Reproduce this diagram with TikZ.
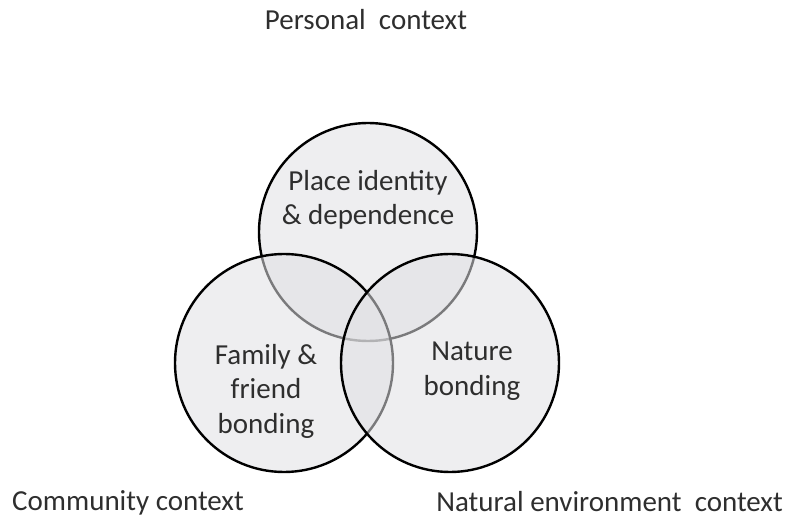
\documentclass[tikz,border=0pt]{standalone}
\usepackage{fontspec}
\setmainfont{Carlito}
\definecolor{txt}{HTML}{2E2E2E}
\definecolor{vfill}{HTML}{E0E0E3}
\begin{document}
\begin{tikzpicture}[x=1pt,y=-1pt,
  venn/.style={circle,draw=black,line width=2.4pt,fill=vfill,fill opacity=0.55,draw opacity=1,minimum size=218pt,inner sep=0pt},
  lbl/.style={text=txt,font=\fontsize{29}{34.5}\selectfont,align=center,text opacity=1},
  ctx/.style={text=txt,font=\fontsize{29}{34}\selectfont,inner sep=0pt}]
\useasboundingbox (0,0) rectangle (787,518);
\node[venn] (top) at (368,232) {};
\node[venn] (left) at (284,363) {};
\node[venn] (right) at (450,363) {};
\node[lbl] (tl) at (368,200) {Place identity\\\& dependence};
\node[lbl] (ll) at (266,391) {Family \&\\friend\\bonding};
\node[lbl] (rl) at (472,371) {Nature\\bonding};
\node[ctx] (pc) at (366,20) {Personal\ \ context};
\node[ctx,anchor=west] (cc) at (12,503) {Community context};
\node[ctx,anchor=east] (nc) at (783,502) {Natural environment\ \ context};
\end{tikzpicture}
\end{document}
